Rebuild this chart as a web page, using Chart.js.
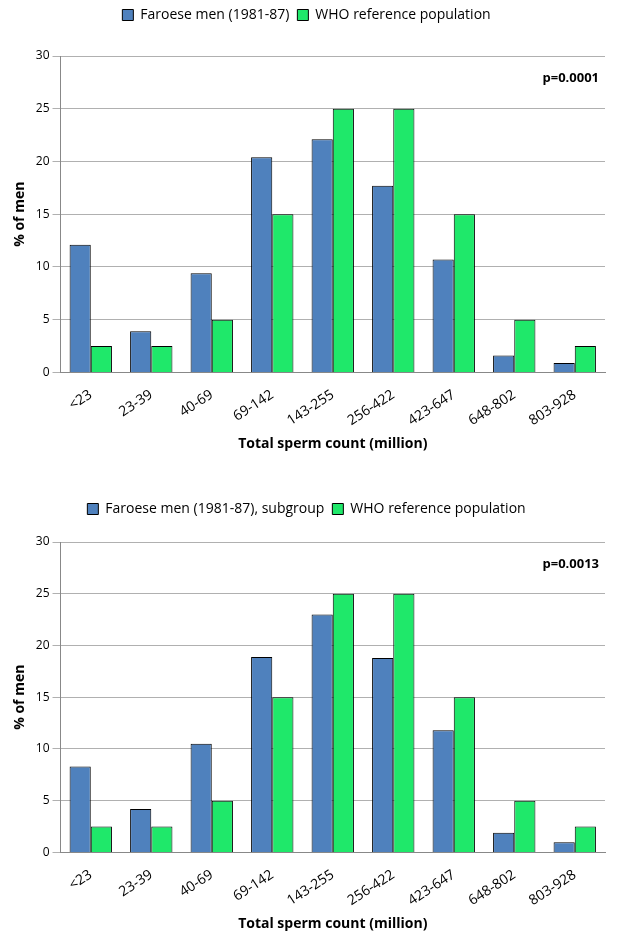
<!DOCTYPE html>
<html><head>
<script src="https://cdn.jsdelivr.net/npm/chart.js@4"></script>
<style>
body{margin:0;background:#fff;font-family:"Open Sans",sans-serif}
.box{position:relative;width:617px}
</style></head><body>
<div class="box" style="height:452px"><canvas id="c1"></canvas></div>
<div class="box" style="height:42px"></div>
<div class="box" style="height:438px"><canvas id="c2"></canvas></div>
<script>
const categories = ["<23","23-39","40-69","69-142","143-255","256-422","423-647","648-802","803-928"];
const faroeseAll = [12.1, 3.9, 9.4, 20.4, 22.1, 17.7, 10.7, 1.6, 0.9];
const faroeseSub = [8.3, 4.2, 10.5, 18.9, 23.0, 18.8, 11.8, 1.9, 1.0];
const whoRef = [2.5, 2.5, 5, 15, 25, 25, 15, 5, 2.5];

Chart.defaults.font.family = "'Open Sans', sans-serif";

function legendGap(extra) {
  return {
    id: "legendGap",
    beforeInit(chart) {
      const fit = chart.legend.fit;
      chart.legend.fit = function () { fit.bind(chart.legend)(); this.height += extra; };
    }
  };
}

function pLabel(text) {
  return {
    id: "plabel",
    afterDraw(chart) {
      const a = chart.chartArea, ctx = chart.ctx;
      ctx.save();
      ctx.font = "bold 13px 'Open Sans'";
      ctx.fillStyle = "#000";
      ctx.textAlign = "right";
      ctx.fillText(text, a.right - 6, a.top + 22);
      ctx.restore();
    }
  };
}

function makeChart(id, label1, data1, ptext, gap) {
  new Chart(document.getElementById(id), {
    type: "bar",
    data: {
      labels: categories,
      datasets: [
        { label: label1, data: data1, backgroundColor: "#4f81bd", borderColor: "#000", borderWidth: 1 },
        { label: "WHO reference population", data: whoRef, backgroundColor: "#1fe86a", borderColor: "#000", borderWidth: 1 }
      ]
    },
    options: {
      responsive: true, maintainAspectRatio: false, animation: false,
      layout: { padding: { left: 8, right: 12, top: 0, bottom: 0 } },
      categoryPercentage: 0.7, barPercentage: 1,
      plugins: {
        legend: { labels: { color: "#000", font: { size: 14 }, boxWidth: 11, boxHeight: 11, padding: 8 } },
        tooltip: { enabled: false }
      },
      scales: {
        y: {
          min: 0, max: 30,
          ticks: { stepSize: 5, color: "#000", font: { size: 12 } },
          grid: { color: "#b0b0b0" },
          border: { color: "#888" },
          title: { display: true, text: "% of men", color: "#000", font: { size: 14, weight: "bold" } }
        },
        x: {
          ticks: { color: "#000", font: { size: 14 }, maxRotation: 33, minRotation: 33, padding: 6 },
          grid: { display: false },
          border: { color: "#888" },
          title: { display: true, text: "Total sperm count (million)", color: "#000", font: { size: 14, weight: "bold" }, padding: { top: 0, bottom: 0 } }
        }
      }
    },
    plugins: [legendGap(gap), pLabel(ptext)]
  });
}
makeChart("c1", "Faroese men (1981-87)", faroeseAll, "p=0.0001", 24);
makeChart("c2", "Faroese men (1981-87), subgroup", faroeseSub, "p=0.0013", 16);
</script>
</body></html>
